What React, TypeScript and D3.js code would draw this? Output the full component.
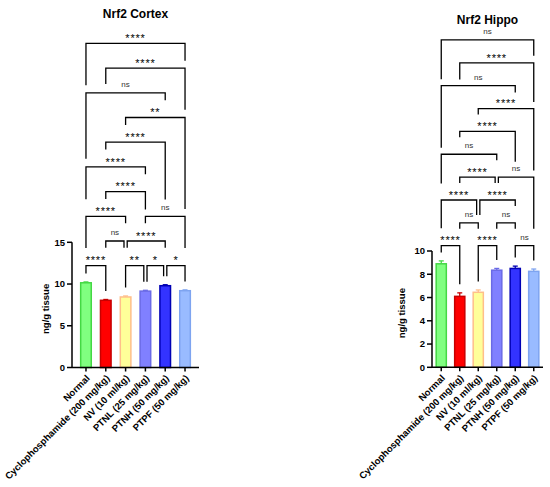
import * as React from 'react';
import * as d3 from 'd3';

const groups = ['Normal', 'Cyclophosphamide (200 mg/kg)', 'NV (10 ml/kg)', 'PTNL (25 mg/kg)', 'PTNH (50 mg/kg)', 'PTPF (50 mg/kg)'];
const fills = ['#80ff80', '#ff0000', '#ffff99', '#8080ff', '#3333ff', '#99bbff'];
const strokes = ['#44d844', '#c80000', '#ffbf8a', '#6a6ae6', '#0000b4', '#7ea4f0'];

const cortexMeans = [10.15, 8.05, 8.45, 9.15, 9.8, 9.2];
const cortexErrors = [0.1, 0.1, 0.12, 0.1, 0.12, 0.1];
const cortexTicks = [0, 5, 10, 15];

const hippoMeans = [8.9, 6.1, 6.45, 8.35, 8.5, 8.25];
const hippoErrors = [0.25, 0.3, 0.2, 0.15, 0.2, 0.2];
const hippoTicks = [0, 2, 4, 6, 8, 10];

// [from, to, label, level, left drop, right drop] ; drops in levels, null = down to the bar
type Bracket = [number, number, string, number, number | null, number | null];

const cortexBrackets: Bracket[] = [
  [0, 5, '****', 9, 1.69, 0.7],
  [1, 5, '****', 8, 0.64, 1.69],
  [0, 4, 'ns', 7, 2.67, 0.3],
  [2, 5, '**', 6, 0.3, 3.7],
  [1, 4, '****', 5, 0.3, 2.32],
  [0, 3, '****', 4, 1.31, 0.3],
  [1, 3, '****', 3, 0.3, 0.72],
  [0, 2, '****', 2, 1.28, 0.28],
  [3, 5, 'ns', 2, 0.28, 1.28],
  [1, 2, 'ns', 1, 0.27, 0.27],
  [2, 4, '****', 1, 0.27, 0.27],
  [0, 1, '****', 0, null, null],
  [2, 3, '**', 0, null, null],
  [3, 4, '*', 0, null, null],
  [4, 5, '*', 0, null, null],
];

const hippoBrackets: Bracket[] = [
  [0, 5, 'ns', 9, 1.72, 0.69],
  [1, 5, '****', 8, 0.73, 1.71],
  [0, 4, 'ns', 7, 2.71, 0.3],
  [2, 5, '****', 6, 0.26, 2.71],
  [1, 4, '****', 5, 0.26, 1.33],
  [0, 3, 'ns', 4, 1.28, 0.26],
  [1, 3, '****', 3, 0.26, 0.26],
  [3, 5, 'ns', 3, 0.26, 2.26],
  [0, 2, '****', 2, 1.24, 0.66],
  [2, 4, '****', 2, 0.66, 0.26],
  [1, 2, 'ns', 1, 0.26, 0.26],
  [3, 4, 'ns', 1, 0.26, 0.26],
  [0, 1, '****', 0, null, null],
  [2, 3, '****', 0, null, null],
  [4, 5, 'ns', 0, null, null],
];

const font = "Arial, 'Liberation Sans', Helvetica, sans-serif";

interface PanelProps {
  title: string;
  titleY: number;
  means: number[];
  errors: number[];
  ticks: number[];
  brackets: Bracket[];
  x0: number;
  x1: number;
  yTop: number;
  yBottom: number;
  padInner: number;
  padOuter: number;
  level0: number;
  levelStep: number;
  labelX: number;
}

function Panel(p: PanelProps) {
  const yMax = p.ticks[p.ticks.length - 1];
  const x = d3.scaleBand<string>().domain(groups).range([p.x0, p.x1]).paddingInner(p.padInner).paddingOuter(p.padOuter);
  const y = d3.scaleLinear().domain([0, yMax]).range([p.yBottom, p.yTop]);
  const level = d3.scaleLinear().domain([0, 1]).range([p.level0, p.level0 - p.levelStep]);
  const bw = x.bandwidth();
  const cx = (i: number) => (x(groups[i]) as number) + bw / 2;
  const barTop = (i: number) => y(p.means[i] + p.errors[i]);

  const bracketEls = p.brackets.map((b, k) => {
    const [from, to, label, lv, dl, dr] = b;
    const row = p.brackets.filter(o => o[3] === lv);
    let xl = cx(from);
    let xr = cx(to);
    if (row.some(o => o[1] === from)) xl += 1.6;
    if (row.some(o => o[0] === to)) xr -= 1.6;
    const yl = level(lv);
    const bl = dl === null ? barTop(from) - 8.5 : yl + dl * p.levelStep;
    const br = dr === null ? barTop(to) - 8.5 : yl + dr * p.levelStep;
    const stars = label !== 'ns';
    return (
      <g key={k}>
        <path d={`M${xl},${bl}V${yl}H${xr}V${br}`} fill="none" stroke="#000" strokeWidth={1.3} />
        <text x={(xl + xr) / 2} y={stars ? yl - 1.3 : yl - 6}
          textAnchor="middle" fontFamily={font}
          fontSize={stars ? 11 : 8} letterSpacing={stars ? 0.8 : 0}
          fill={stars ? '#000' : '#333'}>{label}</text>
      </g>
    );
  });

  return (
    <g>
      <text x={(p.x0 + p.x1) / 2} y={p.titleY} textAnchor="middle" fontFamily={font}
        fontWeight="bold" fontSize={12}>{p.title}</text>
      {p.means.map((m, i) => (
        <g key={i}>
          <line x1={cx(i) - 2.5} x2={cx(i) + 2.5} y1={barTop(i)} y2={barTop(i)} stroke={strokes[i]} strokeWidth={1.3} />
          <line x1={cx(i)} x2={cx(i)} y1={barTop(i)} y2={y(m)} stroke={strokes[i]} strokeWidth={1.3} />
          <rect x={(x(groups[i]) as number) + 0.75} y={y(m)} width={bw - 1.5} height={y(0) - y(m)}
            fill={fills[i]} stroke={strokes[i]} strokeWidth={1.5} />
        </g>
      ))}
      {bracketEls}
      <line x1={p.x0} x2={p.x0} y1={p.yTop} y2={p.yBottom} stroke="#000" strokeWidth={1.5} />
      <line x1={p.x0} x2={p.x1} y1={p.yBottom} y2={p.yBottom} stroke="#000" strokeWidth={1.5} />
      {p.ticks.map(t => (
        <g key={t}>
          <line x1={p.x0 - 5} x2={p.x0} y1={y(t)} y2={y(t)} stroke="#000" strokeWidth={1.5} />
          <text x={p.x0 - 7} y={y(t)} dy="0.35em" textAnchor="end" fontFamily={font}
            fontWeight="bold" fontSize={9.5}>{t}</text>
        </g>
      ))}
      {groups.map((g, i) => (
        <g key={g}>
          <line x1={cx(i)} x2={cx(i)} y1={p.yBottom} y2={p.yBottom + 4} stroke="#000" strokeWidth={1.5} />
          <text transform={`translate(${cx(i) + 2},${p.yBottom + 9}) rotate(-45)`} dy="0.35em"
            textAnchor="end" fontFamily={font} fontWeight="bold" fontSize={9.5}>{g}</text>
        </g>
      ))}
      <text transform={`translate(${p.labelX},${(p.yTop + p.yBottom) / 2 + 4}) rotate(-90)`} dy="0.35em"
        textAnchor="middle" fontFamily={font} fontWeight="bold" fontSize={9.5}>ng/g tissue</text>
    </g>
  );
}

export default function App() {
  return (
    <svg width={550} height={487} style={{ position: 'absolute', left: 0, top: 0, background: '#fff' }}>
      <Panel title="Nrf2 Cortex" titleY={17.5} means={cortexMeans} errors={cortexErrors}
        ticks={cortexTicks} brackets={cortexBrackets} x0={72} x1={199} yTop={242.3} yBottom={367.5}
        padInner={0.39} padOuter={0.4} level0={265.7} levelStep={24.7} labelX={45.5} />
      <Panel title="Nrf2 Hippo" titleY={24} means={hippoMeans} errors={hippoErrors}
        ticks={hippoTicks} brackets={hippoBrackets} x0={432} x1={543} yTop={251} yBottom={367.3}
        padInner={0.37} padOuter={0.185} level0={245.7} levelStep={22.86} labelX={402} />
    </svg>
  );
}
